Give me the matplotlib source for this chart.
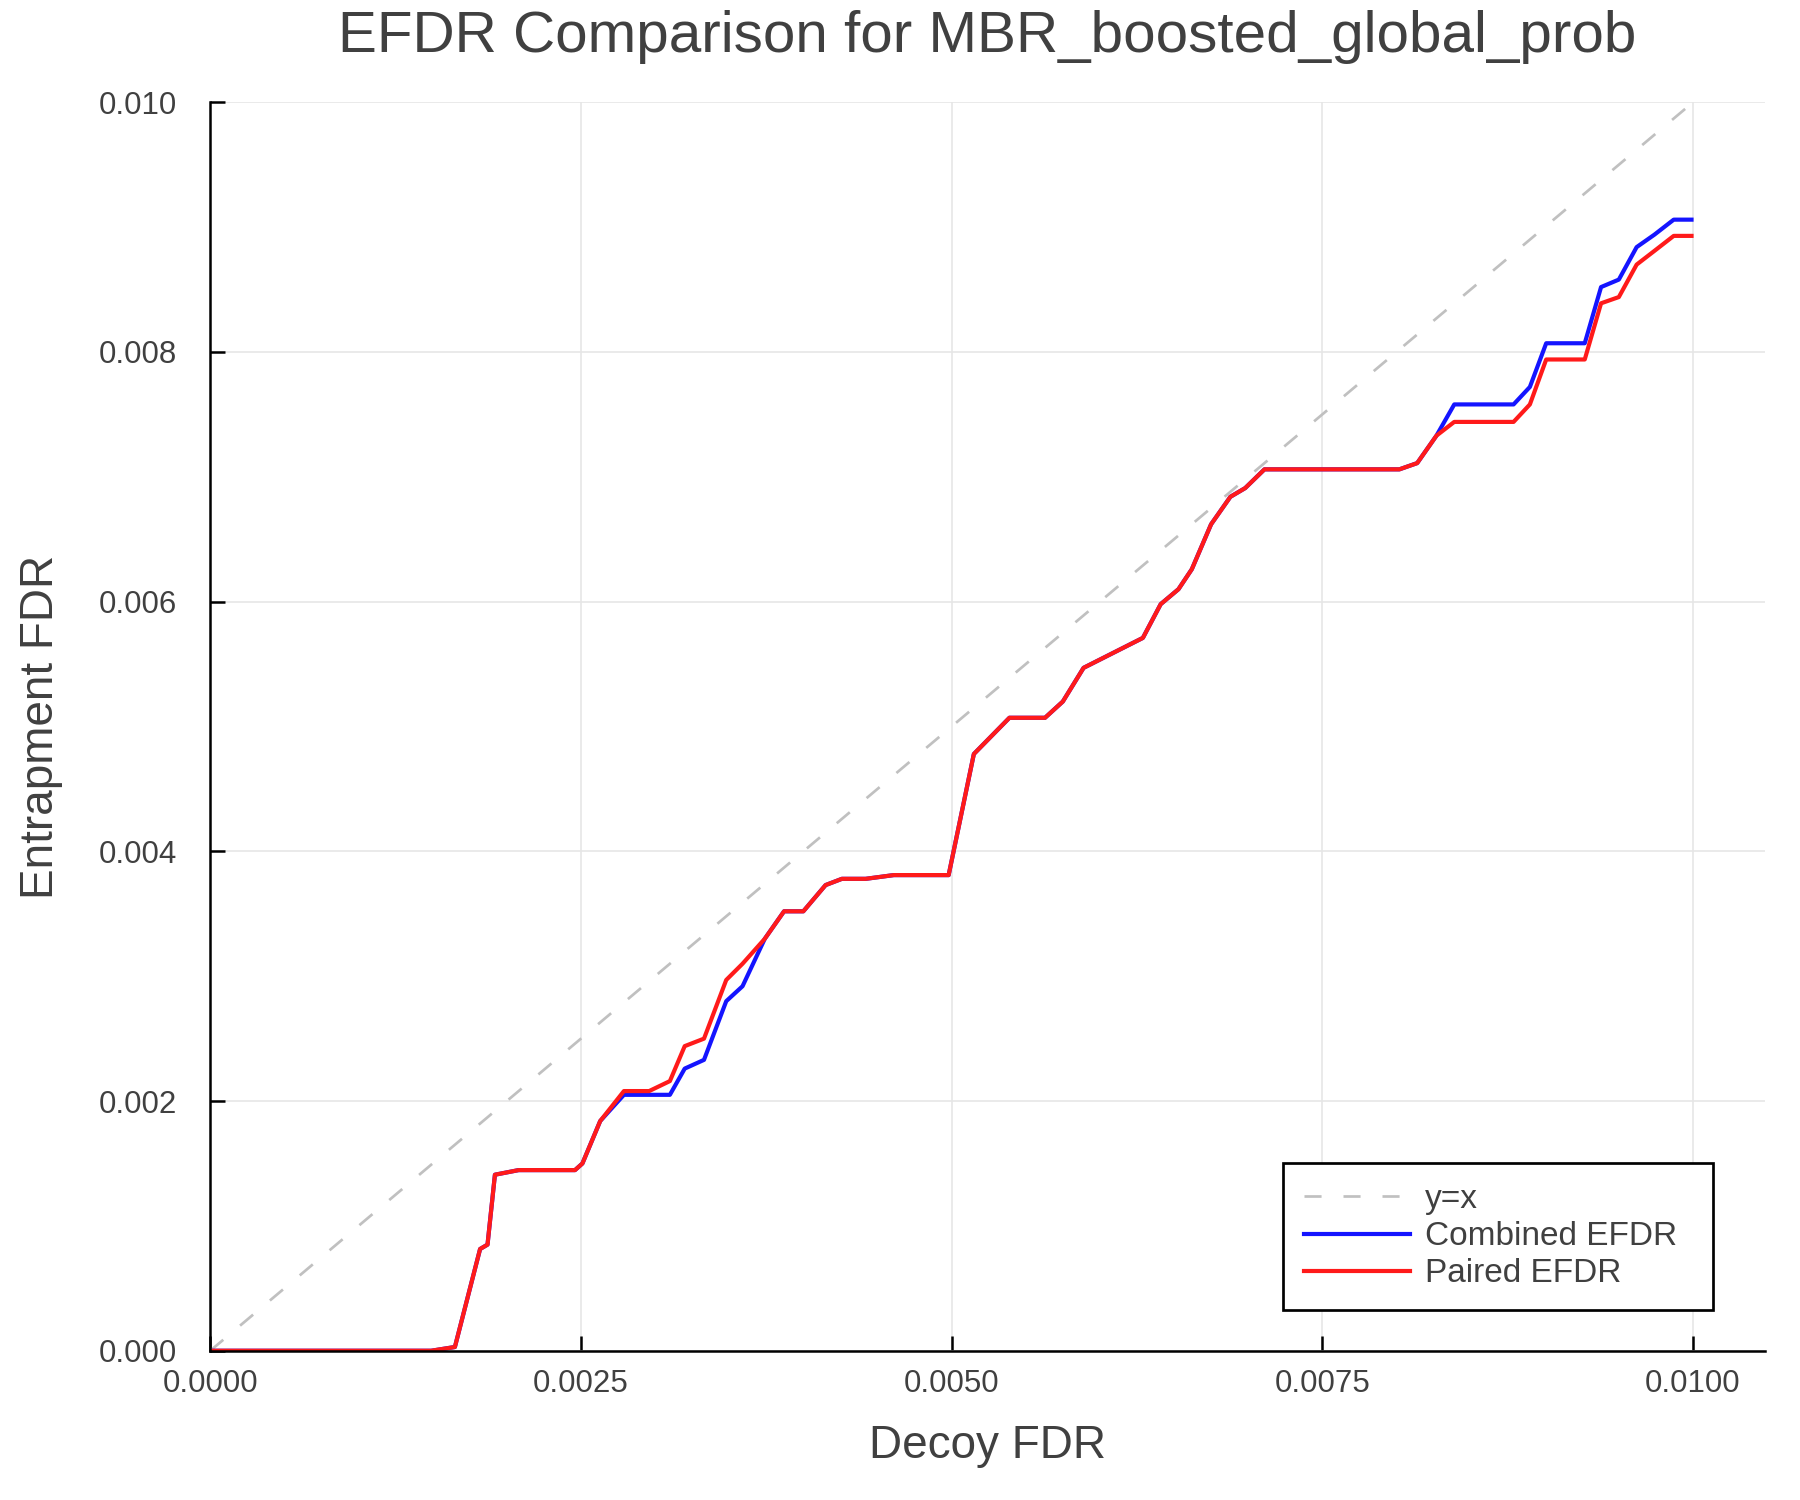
import numpy as np
import matplotlib
matplotlib.use("Agg")
import matplotlib.pyplot as plt

# values
decoy_fdr = [0, 0.00149, 0.00165, 0.00182, 0.00187, 0.00192, 0.00208, 0.00246, 0.00251, 0.00263,
             0.00279, 0.00296, 0.00310, 0.00320, 0.00333, 0.00348, 0.00359, 0.00374, 0.00387, 0.00400,
             0.00415, 0.00426, 0.00442, 0.00461, 0.00498, 0.00515, 0.00539, 0.00563, 0.00575, 0.00589,
             0.00629, 0.00641, 0.00653, 0.00662, 0.00675, 0.00688, 0.00698, 0.00711, 0.00802, 0.00814,
             0.00827, 0.00839, 0.00879, 0.00890, 0.00901, 0.00927, 0.00938, 0.00950, 0.00962, 0.00974,
             0.00987, 0.00999]

combined_efdr = [0, 0, 0.00003, 0.000815, 0.00085, 0.00141, 0.001447, 0.001447, 0.0015, 0.00184,
                 0.00205, 0.00205, 0.00205, 0.00226, 0.00233, 0.0028, 0.00292, 0.0033, 0.00352, 0.00352,
                 0.00373, 0.00378, 0.00378, 0.00381, 0.00381, 0.00478, 0.00507, 0.00507, 0.0052, 0.00547,
                 0.00571, 0.00598, 0.0061, 0.00626, 0.00662, 0.00684, 0.00691, 0.00706, 0.00706, 0.00711,
                 0.00733, 0.00758, 0.00758, 0.00772, 0.00807, 0.00807, 0.00852, 0.00858, 0.00884, 0.00894,
                 0.00906, 0.00906]

paired_efdr = [0, 0, 0.00003, 0.000815, 0.00085, 0.00141, 0.001447, 0.001447, 0.0015, 0.00184,
               0.00208, 0.00208, 0.00216, 0.00244, 0.0025, 0.00297, 0.0031, 0.0033, 0.00352, 0.00352,
               0.00373, 0.00378, 0.00378, 0.00381, 0.00381, 0.00478, 0.00507, 0.00507, 0.0052, 0.00547,
               0.00571, 0.00598, 0.0061, 0.00626, 0.00662, 0.00684, 0.00691, 0.00706, 0.00706, 0.00711,
               0.00733, 0.00744, 0.00744, 0.00758, 0.00794, 0.00794, 0.00839, 0.00844, 0.0087, 0.00881,
               0.00893, 0.00893]

diag = [0, 0.01]
xticks = [0, 0.0025, 0.005, 0.0075, 0.01]
yticks = [0, 0.002, 0.004, 0.006, 0.008, 0.010]

text_col = "#404040"
plt.rcParams["font.family"] = ["Liberation Sans", "DejaVu Sans"]

fig = plt.figure(figsize=(12, 10), dpi=150)
ax = fig.add_axes([0.1168, 0.0995, 0.8637, 0.8323])

ax.plot(diag, diag, color="#c0c0c0", lw=1.3, linestyle=(0, (6.3, 8.1)), label="y=x")
ax.plot(decoy_fdr, combined_efdr, color="#1414ff", lw=2.0, label="Combined EFDR")
ax.plot(decoy_fdr, paired_efdr, color="#ff1a1a", lw=2.0, label="Paired EFDR")

ax.set_xlim(0, 0.010485)
ax.set_ylim(0, 0.010)
ax.set_xticks(xticks)
ax.set_xticklabels([f"{v:.4f}" for v in xticks])
ax.set_yticks(yticks)
ax.set_yticklabels([f"{v:.3f}" for v in yticks])

ax.grid(True, color="#e6e6e6", lw=0.8)
ax.set_axisbelow(True)
for s in ["top", "right"]:
    ax.spines[s].set_visible(False)
for s in ["left", "bottom"]:
    ax.spines[s].set_linewidth(1.2)
    ax.spines[s].set_color("black")
ax.tick_params(axis="both", direction="in", length=7, width=1.2, colors="black",
               labelcolor=text_col, labelsize=15)
ax.tick_params(axis="x", pad=9)
ax.tick_params(axis="y", pad=16)

ax.set_title("EFDR Comparison for MBR_boosted_global_prob", fontsize=28, color=text_col, pad=24)
ax.set_xlabel("Decoy FDR", fontsize=22, color=text_col, labelpad=12)
ax.set_ylabel("Entrapment FDR", fontsize=22, color=text_col, labelpad=17)

leg = ax.legend(loc="lower left", bbox_to_anchor=(0.690, 0.0326, 0.2766, 0.1217), mode="expand",
                fontsize=16, frameon=True, fancybox=False, framealpha=1, edgecolor="black",
                handlelength=3.2, handletextpad=0.45, labelspacing=0.185, borderpad=0.62,
                borderaxespad=0)
leg.get_frame().set_linewidth(1.3)
for t in leg.get_texts():
    t.set_color(text_col)

fig.savefig("out.png", dpi=150, facecolor="white")
